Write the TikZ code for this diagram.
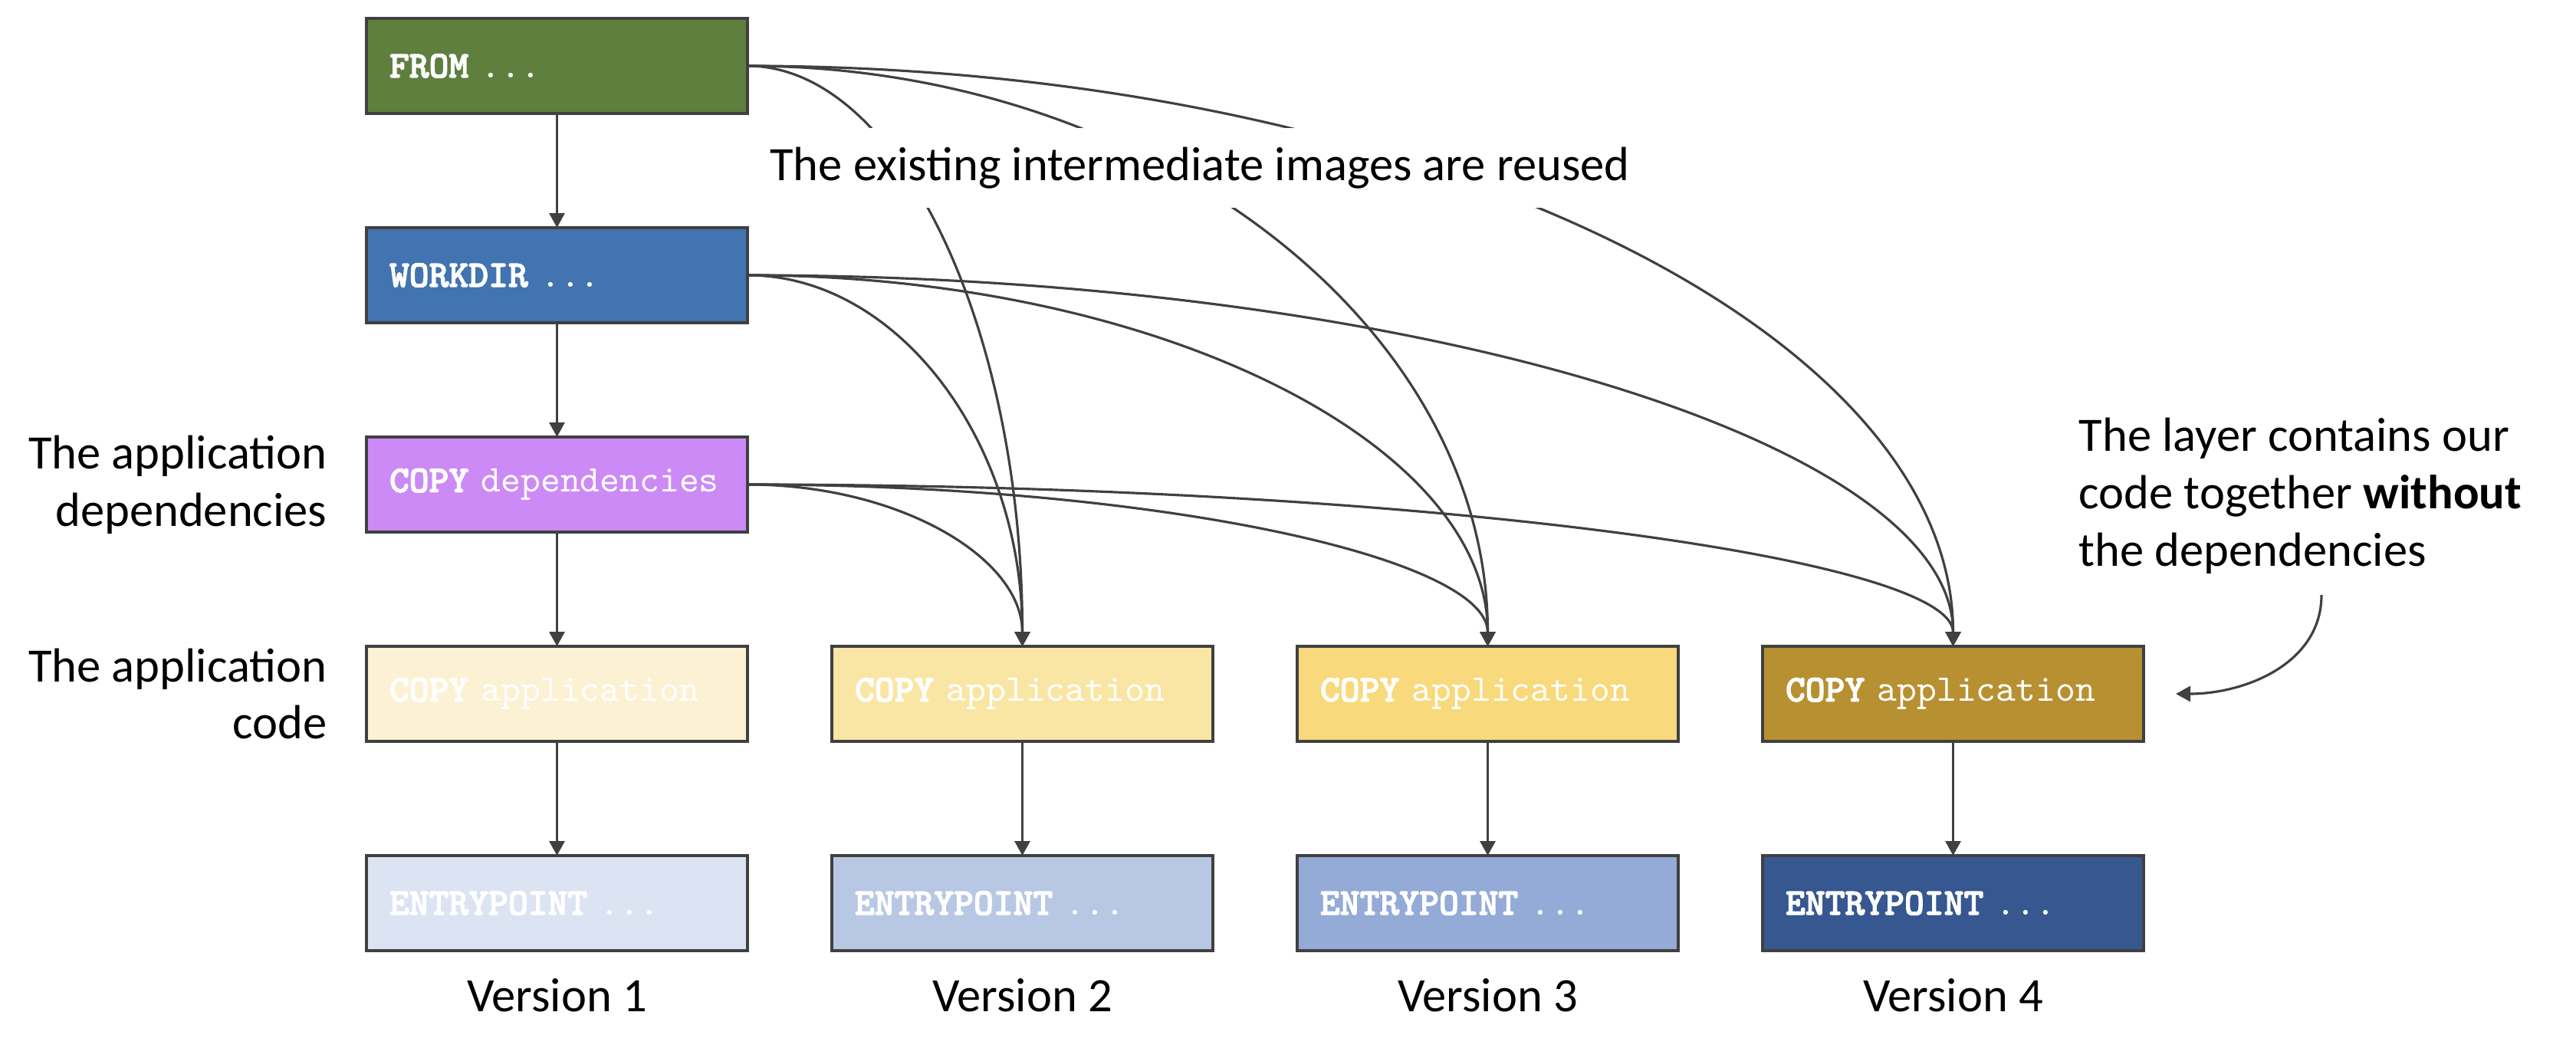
\documentclass[tikz,border=0pt]{standalone}
\usepackage{fontspec}
\setmainfont{Carlito}
\setmonofont{lmmono10-regular}[Extension=.otf, BoldFont=lmmonolt10-bold,
  BoldFeatures={FakeBold=2.5}]
\usetikzlibrary{positioning,arrows.meta,calc}

\definecolor{linegray}{HTML}{404040}
\definecolor{fromgreen}{HTML}{5E7F3E}
\definecolor{workblue}{HTML}{4174B0}
\definecolor{deppurple}{HTML}{CC8AF6}
\definecolor{appA}{HTML}{FCF1D3}
\definecolor{appB}{HTML}{FAE6A4}
\definecolor{appC}{HTML}{F8D97B}
\definecolor{appD}{HTML}{B79032}
\definecolor{entryA}{HTML}{DCE3F2}
\definecolor{entryB}{HTML}{B8C8E4}
\definecolor{entryC}{HTML}{94AAD7}
\definecolor{entryD}{HTML}{36578F}

\tikzset{
  layer/.style={draw=linegray, line width=0.9pt, minimum height=1.24cm,
    text width=4.37cm, inner xsep=0.3cm, outer sep=0pt, align=left, text=white,
    font=\ttfamily\fontsize{14}{16}\selectfont},
  flow/.style={draw=linegray, line width=0.9pt,
    -{Triangle[length=0.19cm,width=0.2cm]}},
  note/.style={inner sep=0pt, font=\fontsize{17.8}{21.3}\selectfont},
}

\begin{document}
\begin{tikzpicture}
  \useasboundingbox (0,0) rectangle (33.6,-13.8);

  % base image, shared by all versions
  \node[layer, fill=fromgreen] (from) at (7.265,-0.86) {\textbf{FROM} ...};
  \node[layer, fill=workblue, below=1.49cm of from] (workdir) {\textbf{WORKDIR} ...};
  \node[layer, fill=deppurple, below=1.49cm of workdir] (deps) {\textbf{COPY} dependencies};

  % one application layer per version
  \node[layer, fill=appA, below=1.49cm of deps] (app1) {\textbf{COPY} application};
  \node[layer, fill=appB, right=1.1cm of app1] (app2) {\textbf{COPY} application};
  \node[layer, fill=appC, right=1.1cm of app2] (app3) {\textbf{COPY} application};
  \node[layer, fill=appD, right=1.1cm of app3] (app4) {\textbf{COPY} application};

  \node[layer, fill=entryA, below=1.49cm of app1] (entry1) {\textbf{ENTRYPOINT} ...};
  \node[layer, fill=entryB, below=1.49cm of app2] (entry2) {\textbf{ENTRYPOINT} ...};
  \node[layer, fill=entryC, below=1.49cm of app3] (entry3) {\textbf{ENTRYPOINT} ...};
  \node[layer, fill=entryD, below=1.49cm of app4] (entry4) {\textbf{ENTRYPOINT} ...};

  \foreach \i in {1,...,4}
    \node[note, below=0.36cm of entry\i] (version\i) {Version \i};

  % first build
  \draw[flow] (from) -- (workdir);
  \draw[flow] (workdir) -- (deps);
  \draw[flow] (deps) -- (app1);
  \foreach \i in {1,...,4}
    \draw[flow] (app\i) -- (entry\i);

  % reused layers
  \foreach \src in {from,workdir,deps}
    \foreach \dst in {app2,app3,app4} {
      \coordinate (corner) at (\src.east -| \dst.north);
      \draw[flow] (\src.east) .. controls ($(\src.east)!0.55!(corner)$)
        and ($(\dst.north)!0.55!(corner)$) .. (\dst.north);
    }

  \node[note, fill=white, inner xsep=0.1cm, inner ysep=0.25cm] (reused) at (15.65,-2.19)
    {The existing intermediate images are reused};

  \node[note, align=right, left=0.51cm of deps] (depnote) {The application\\dependencies};
  \node[note, align=right, left=0.51cm of app1] (appnote) {The application\\code};

  \node[note, align=left, anchor=west] (layernote) at (27.11,-6.47)
    {The layer contains our\\code together \textbf{without}\\the dependencies};
  \coordinate (notetail) at (30.28,-7.76);
  \draw[flow] (notetail) to[out=-90,in=0] ([xshift=0.42cm]app4.east);
\end{tikzpicture}
\end{document}
